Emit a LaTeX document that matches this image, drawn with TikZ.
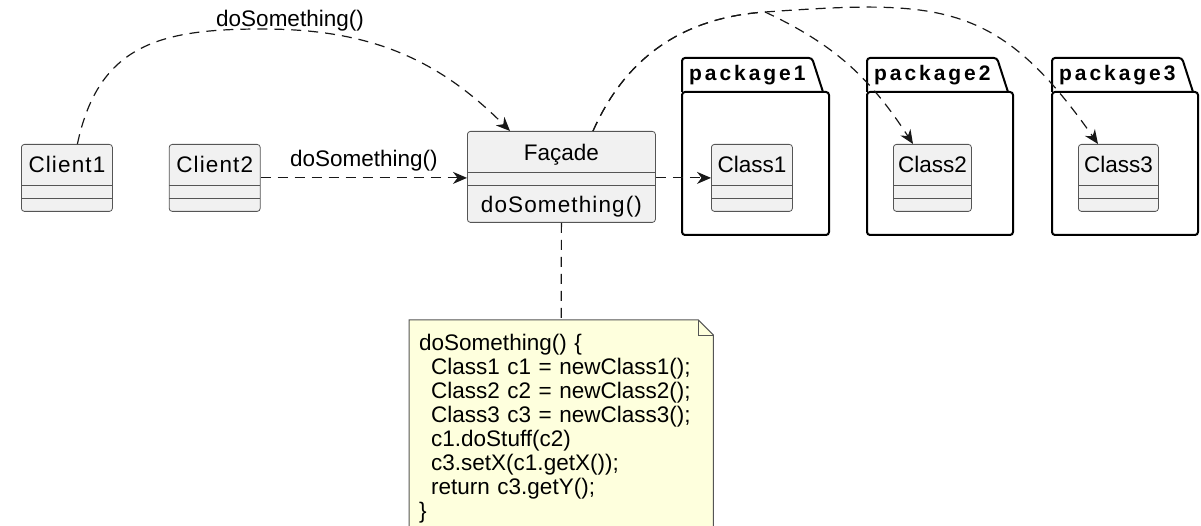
\documentclass[tikz,border=0pt]{standalone}
\usepackage{fontspec}
\setmainfont{Liberation Sans}
\newfontfamily\spacedfont{Liberation Sans}[LetterSpace=5]
\newfontfamily\pkgfont{Liberation Sans Bold}[LetterSpace=14]
\usetikzlibrary{positioning, backgrounds}
\usetikzlibrary{arrows.meta}
\tikzset{>={Stealth[width=12pt,length=14pt,inset=4.5pt]}}
\definecolor{classfill}{HTML}{F1F1F1}
\definecolor{classline}{HTML}{555555}
\definecolor{notefill}{HTML}{FEFFDD}
\definecolor{inkline}{HTML}{181818}

\begin{document}
\begin{tikzpicture}[x=1pt, y=1pt, umlclass/.style={rectangle, rounded corners=3pt, draw=classline, line width=0.8pt, fill=classfill, inner xsep=4pt, inner ysep=0pt, text height=28pt, text depth=39pt, font=\fontsize{22.5}{27}\selectfont, path picture={\draw[classline, line width=0.8pt] ([yshift=-41pt]path picture bounding box.north west) -- ([yshift=-41pt]path picture bounding box.north east) ([yshift=-54pt]path picture bounding box.north west) -- ([yshift=-54pt]path picture bounding box.north east);}}, pkgbody/.style={rectangle, draw=black, line width=2pt, rounded corners=3pt, inner sep=0pt, outer sep=0pt}, pkgline/.style={draw=black, line width=2pt, rounded corners=3pt}, pkglabel/.style={inner sep=0pt, font=\pkgfont\fontsize{21}{24}\selectfont}, edgelabel/.style={inner sep=0pt, font=\fontsize{22.5}{27}\selectfont}, dep/.style={draw=inkline, line width=1.2pt, dash pattern=on 10pt off 7pt}, notebox/.style={inner xsep=10pt, inner ysep=14pt, text width=284pt, align=left, font=\fontsize{22.5}{24}\selectfont}, noteline/.style={draw=classline, line width=1pt}]

    \path[use as bounding box] (0,0) rectangle (1201,-526);
    \clip (0,0) rectangle (1201,-526);

    %Nodes
    \node[umlclass, minimum width=91pt, anchor=north west](client1) at (21,-144){\spacedfont Client1};
    \node[umlclass, minimum width=91pt](client2)[right=56pt of client1]{\spacedfont Client2};
    \node[umlclass, minimum width=188pt, text height=29pt, text depth=62pt, anchor=north west](facade) at (467,-131){Façade};
    \node[edgelabel, anchor=base](facadeop) at ([yshift=-82pt]facade.north){\spacedfont doSomething()};

    \node[pkgbody, minimum width=147pt, minimum height=143pt, anchor=north west](pkg1) at (682,-92){};
    \node[pkgbody, minimum width=146pt, minimum height=143pt](pkg2)[right=38pt of pkg1]{};
    \node[pkgbody, minimum width=146pt, minimum height=143pt](pkg3)[right=39pt of pkg2]{};
    \node[pkglabel, anchor=west](pkg1name) at ([xshift=7pt, yshift=17pt]pkg1.north west){package1};
    \node[pkglabel, anchor=west](pkg2name) at ([xshift=7pt, yshift=17pt]pkg2.north west){package2};
    \node[pkglabel, anchor=west](pkg3name) at ([xshift=7pt, yshift=17pt]pkg3.north west){package3};
    \node[umlclass, minimum width=81pt](class1)[below right=52pt and 29pt of pkg1.north west]{Class1};
    \node[umlclass, minimum width=78pt](class2)[below right=52pt and 26pt of pkg2.north west]{Class2};
    \node[umlclass, minimum width=80pt](class3)[below right=52pt and 26pt of pkg3.north west]{Class3};

    \node[notebox, anchor=north west](note) at (409,-320){doSomething() \{\\
    \hspace*{12pt}Class1 c1 = newClass1();\\
    \hspace*{12pt}Class2 c2 = newClass2();\\
    \hspace*{12pt}Class3 c3 = newClass3();\\
    \hspace*{12pt}c1.doStuff(c2)\\
    \hspace*{12pt}c3.setX(c1.getX());\\
    \hspace*{12pt}return c3.getY();\\
    \}};

    \coordinate (top1) at (262,-29);
    \coordinate (fork) at (765,-12);

    %Package tabs and note paper
    \draw[pkgline] (pkg1.north west) -- ++(0,34) -- ++(130,0) -- ++(11,-34);
    \draw[pkgline] (pkg2.north west) -- ++(0,34) -- ++(130,0) -- ++(11,-34);
    \draw[pkgline] (pkg3.north west) -- ++(0,34) -- ++(130,0) -- ++(11,-34);
    \begin{scope}[on background layer]
    \draw[noteline, fill=notefill] (note.north west) -- ([xshift=-15pt]note.north east) -- ([yshift=-15pt]note.north east) -- ([yshift=-30pt]note.south east) -- ([yshift=-30pt]note.south west) -- cycle;
    \draw[noteline] ([xshift=-15pt]note.north east) |- ([yshift=-15pt]note.north east);
    \end{scope}

    %Lines
    \draw[dep, ->] ([xshift=10.5pt]client1.north) to[out=78, in=180, looseness=1.2] node[edgelabel, pos=1, anchor=base, xshift=28pt, yshift=2pt](toplabel){doSomething()} (top1) to[out=0, in=135] ([xshift=43pt]facade.north west);
    \draw[dep, ->] (client2.east) -- node[edgelabel, above=6pt](midlabel){doSomething()} (client2.east -| facade.west);
    \draw[dep, ->] (facade.east |- class1.west) -- (class1.west);
    \draw[dep, ->] ([xshift=126pt]facade.north west) to[out=66, in=184] (fork) to[out=4, in=125, looseness=1.25] ([xshift=20pt]class3.north west);
    \draw[dep, ->] ([xshift=126pt]facade.north west) to[out=66, in=184] (fork) to[out=-25, in=123] ([xshift=20pt]class2.north west);
    \draw[dep] (facade.south) -- (note.north);

\end{tikzpicture}
\end{document}
